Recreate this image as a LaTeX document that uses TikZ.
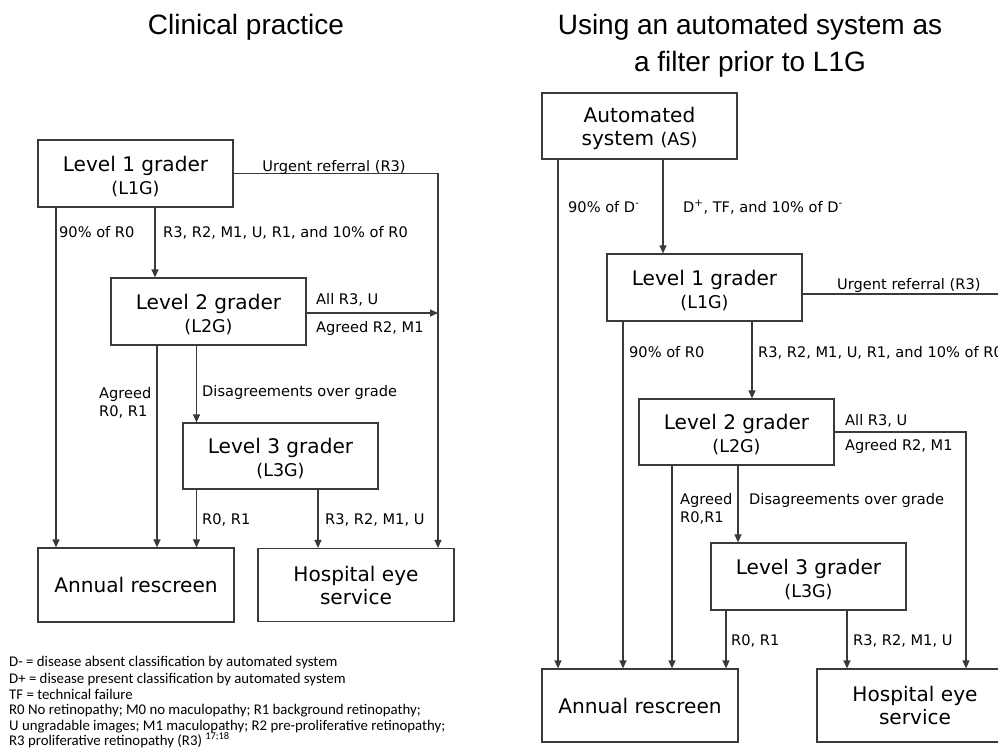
\documentclass[tikz,border=0pt]{standalone}
\usepackage{fontspec}
\setmainfont{DejaVu Sans}
\newfontfamily\titlefont{Liberation Sans}
\newfontfamily\legfont{Carlito}
\usetikzlibrary{arrows.meta}
\definecolor{ln}{HTML}{3A3A3A}
\newcommand\abbrv[1]{{\fontsize{17.5}{23}\selectfont #1}}
\newcommand\topstrut{\rule{0pt}{21pt}}
\begin{document}
\begin{tikzpicture}[x=1pt,y=-1pt,
  box/.style={draw=ln, line width=1.2pt, minimum width=195pt, minimum height=67pt, inner sep=0pt, align=center, font=\fontsize{20.1}{23}\selectfont},
  lbl/.style={anchor=base west, inner sep=0pt, font=\fontsize{14.6}{18}\selectfont},
  ttl/.style={anchor=base, inner sep=0pt, font=\titlefont\fontsize{28}{36}\selectfont},
  leg/.style={anchor=base west, inner sep=0pt, font=\legfont\fontsize{14.8}{16}\selectfont},
  arr/.style={draw=ln, line width=1.2pt, -{Triangle[length=8pt,width=7pt]}},
]
\useasboundingbox (0,0) rectangle (998,752);
\clip (0,0) rectangle (998,752);

% ---------- titles ----------
\node[ttl] (t1) at (246,35) {Clinical practice};
\node[ttl] (t2) at (750,35) {Using an automated system as};
\node[ttl] (t3) at (750,71) {a filter prior to L1G};

% ---------- left diagram ----------
\node[box] (L1Ga) at (135.5,173.5) {\topstrut Level 1 grader\\\abbrv{(L1G)}};
\node[box] (L2Ga) at (208.5,311.5) {\topstrut Level 2 grader\\\abbrv{(L2G)}};
\node[box, minimum height=66pt] (L3Ga) at (280.5,456) {\topstrut Level 3 grader\\\abbrv{(L3G)}};
\node[box, minimum width=196pt, minimum height=74pt] (ARa) at (136,585) {Annual rescreen};
\node[box, minimum width=196pt, minimum height=73pt] (HEa) at (356,585) {Hospital eye\\service};

\coordinate (ca1) at (56,0);
\coordinate (ca2) at (155,0);
\coordinate (ca3) at (438,0);
\coordinate (ca4) at (157,0);
\coordinate (ca5) at (196.5,0);
\coordinate (ca6) at (318,0);

\draw[arr] (L1Ga.south -| ca1) -- (ARa.north -| ca1);
\draw[arr] (L1Ga.south -| ca2) -- (L2Ga.north -| ca2);
\draw[arr] (L1Ga.east) -| (HEa.north -| ca3);
\draw[arr] ([yshift=-1.5pt]L2Ga.east) -- ([yshift=-1.5pt]L2Ga.east -| ca3);
\draw[arr] (L2Ga.south -| ca4) -- (ARa.north -| ca4);
\draw[arr] (L2Ga.south -| ca5) -- (L3Ga.north -| ca5);
\draw[arr] (L3Ga.south -| ca5) -- (ARa.north -| ca5);
\draw[arr] (L3Ga.south -| ca6) -- (HEa.north -| ca6);

\node[lbl, anchor=base] (la1) at (334,171) {Urgent referral (R3)};
\node[lbl] (la2) at (59,237) {90\% of R0};
\node[lbl] (la3) at (163,237) {R3, R2, M1, U, R1, and 10\% of R0};
\node[lbl] (la4) at (316,304) {All R3, U};
\node[lbl] (la5) at (316,332) {Agreed R2, M1};
\node[lbl] (la6) at (99,398) {Agreed};
\node[lbl] (la7) at (99,416) {R0, R1};
\node[lbl] (la8) at (202,396) {Disagreements over grade};
\node[lbl] (la9) at (202,524) {R0, R1};
\node[lbl] (la10) at (325,524) {R3, R2, M1, U};

% ---------- legend ----------
\node[leg] (g1) at (9,666) {D- = disease absent classification by automated system};
\node[leg] (g2) at (9,683) {D+ = disease present classification by automated system};
\node[leg] (g3) at (9,699) {TF = technical failure};
\node[leg] (g4) at (9,714) {R0 No retinopathy; M0 no maculopathy; R1 background retinopathy;};
\node[leg] (g5) at (9,730) {U ungradable images; M1 maculopathy; R2 pre-proliferative retinopathy;};
\node[leg] (g6) at (9,745) {R3 proliferative retinopathy (R3) \textsuperscript{17;18}};

% ---------- right diagram ----------
\node[box, minimum height=66pt] (AS) at (639.5,126) {\topstrut Automated\\system \abbrv{(AS)}};
\node[box] (L1Gb) at (704.5,287.5) {\topstrut Level 1 grader\\\abbrv{(L1G)}};
\node[box, minimum height=66pt] (L2Gb) at (736.5,432) {\topstrut Level 2 grader\\\abbrv{(L2G)}};
\node[box] (L3Gb) at (808.5,576.5) {\topstrut Level 3 grader\\\abbrv{(L3G)}};
\node[box, minimum width=196pt, minimum height=73pt] (ARb) at (640,705.5) {Annual rescreen};
\node[box, minimum width=196pt, minimum height=73pt] (HEb) at (915,705.5) {Hospital eye\\service};

\coordinate (cb1) at (558,0);
\coordinate (cb2) at (663,0);
\coordinate (cb3) at (623,0);
\coordinate (cb4) at (752,0);
\coordinate (cb5) at (966,0);
\coordinate (cb6) at (672,0);
\coordinate (cb7) at (738,0);
\coordinate (cb8) at (726,0);
\coordinate (cb9) at (847,0);
\coordinate (cbx) at (1008,0);

\draw[arr] (AS.south -| cb1) -- (ARb.north -| cb1);
\draw[arr] (AS.south -| cb2) -- (L1Gb.north -| cb2);
\draw[arr] ([yshift=-6.5pt]L1Gb.east) -| (HEb.north -| cbx);
\draw[arr] (L1Gb.south -| cb3) -- (ARb.north -| cb3);
\draw[arr] (L1Gb.south -| cb4) -- (L2Gb.north -| cb4);
\draw[arr] (L2Gb.east) -| (HEb.north -| cb5);
\draw[arr] (L2Gb.south -| cb6) -- (ARb.north -| cb6);
\draw[arr] (L2Gb.south -| cb7) -- (L3Gb.north -| cb7);
\draw[arr] (L3Gb.south -| cb8) -- (ARb.north -| cb8);
\draw[arr] (L3Gb.south -| cb9) -- (HEb.north -| cb9);

\node[lbl] (lb1) at (568,212) {90\% of D\textsuperscript{-}};
\node[lbl] (lb2) at (683,212) {D\textsuperscript{+}, TF, and 10\% of D\textsuperscript{-}};
\node[lbl] (lb3) at (837,289) {Urgent referral (R3)};
\node[lbl] (lb4) at (629,357) {90\% of R0};
\node[lbl] (lb5) at (758,357) {R3, R2, M1, U, R1, and 10\% of R0};
\node[lbl] (lb6) at (845,425) {All R3, U};
\node[lbl] (lb7) at (845,450) {Agreed R2, M1};
\node[lbl] (lb8) at (680,504) {Agreed};
\node[lbl] (lb9) at (680,522) {R0,R1};
\node[lbl] (lb10) at (749,504) {Disagreements over grade};
\node[lbl] (lb11) at (731,645) {R0, R1};
\node[lbl] (lb12) at (853,645) {R3, R2, M1, U};
\end{tikzpicture}
\end{document}
